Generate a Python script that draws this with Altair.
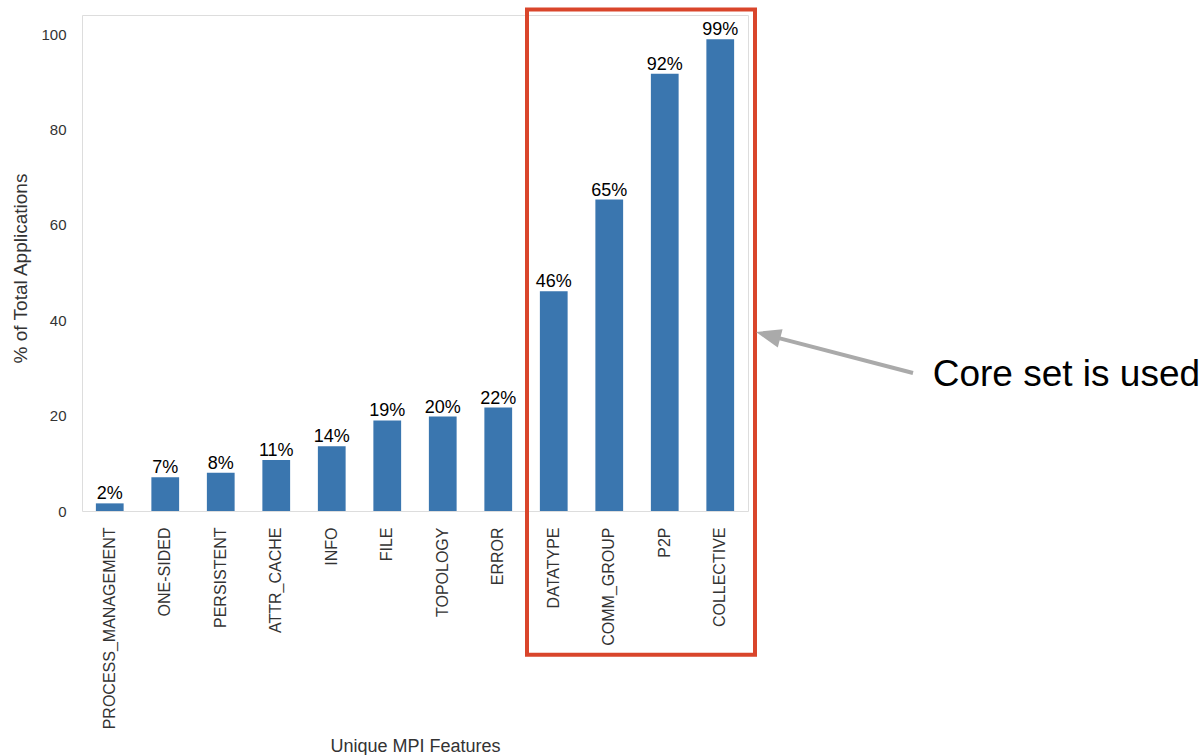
import altair as alt
import pandas as pd

features = ["PROCESS_MANAGEMENT", "ONE-SIDED", "PERSISTENT", "ATTR_CACHE", "INFO",
            "FILE", "TOPOLOGY", "ERROR", "DATATYPE", "COMM_GROUP", "P2P", "COLLECTIVE"]
percent = [1.6, 7.1, 8.0, 10.7, 13.6, 19.0, 19.8, 21.7, 46.1, 65.3, 91.7, 98.9]
y_ticks = [0, 20, 40, 60, 80, 100]
annotation_text = ["Core set is used"]

df = pd.DataFrame({"feature": features, "pct": percent})

W, H = 666, 496
FONT = "Liberation Sans"

x_enc = alt.X("feature:N", sort=features,
              scale=alt.Scale(paddingInner=0.5, paddingOuter=0.25),
              axis=alt.Axis(title="Unique MPI Features", labelAngle=-90, labelFontSize=16,
                            labelPadding=16, labelLimit=400, ticks=False, domain=False,
                            labelColor="#333333", titleColor="#333333", titleFontSize=18,
                            titleFontWeight="normal", titleBaseline="alphabetic",
                            titleY=240, labelFont=FONT, titleFont=FONT))
y_enc = alt.Y("pct:Q", scale=alt.Scale(domain=[0, 104], nice=False),
              axis=alt.Axis(title="% of Total Applications", values=y_ticks, grid=False,
                            ticks=False, domain=False, labelPadding=16, labelFontSize=15,
                            labelColor="#333333", titleColor="#333333", titleFontSize=19,
                            titleFontWeight="normal", titleX=-62, titleY=H / 2 + 5,
                            titleBaseline="middle", titleAnchor="middle",
                            labelFont=FONT, titleFont=FONT))

bars = alt.Chart(df).mark_bar(color="#3a76af").encode(x=x_enc, y=y_enc)

labels = alt.Chart(df).transform_calculate(
    lab="format(datum.pct, '.0f') + '%'"
).mark_text(baseline="alphabetic", dy=-4, fontSize=18, color="black", font=FONT).encode(
    x=alt.X("feature:N", sort=features), y="pct:Q", text="lab:N")

one = alt.Data(values=[{"k": 0}])

box = alt.Chart(one).mark_rect(fillOpacity=0, stroke="#d9452b", strokeWidth=4).encode(
    x=alt.value(445), x2=alt.value(673), y=alt.value(-5.5), y2=alt.value(639.7))

shaft = alt.Chart(one).mark_rule(color="#aaaaaa", strokeWidth=4).encode(
    x=alt.value(831), y=alt.value(358), x2=alt.value(695), y2=alt.value(322.6))

head = alt.Chart(one).mark_point(shape="M0,0L2,-0.76L2,0.76Z", filled=True, size=625,
                                 angle=14.7, color="#aaaaaa", opacity=1).encode(
    x=alt.value(674), y=alt.value(317))

note = alt.Chart(pd.DataFrame({"t": annotation_text})).mark_text(
    align="left", baseline="alphabetic", fontSize=37, color="black", font=FONT).encode(
    x=alt.value(850.7), y=alt.value(371), text="t:N")

chart = alt.layer(bars, labels, box, shaft, head, note).properties(
    width=W, height=H,
    autosize=alt.AutoSizeParams(type="none"),
    padding={"left": 82, "top": 15, "right": 1204 - 82 - W, "bottom": 755 - 15 - H},
).configure_view(stroke="#c8c8c8", strokeWidth=2).configure(background="white")

chart.save("out.html", embed_options={"renderer": "svg", "actions": False})
